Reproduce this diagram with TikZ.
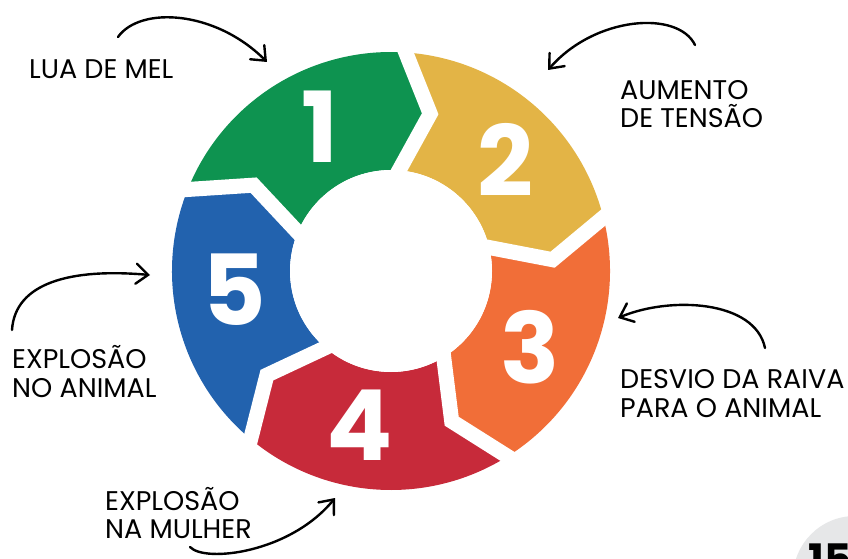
\documentclass[tikz,border=0pt]{standalone}
\usepackage{fontspec}
\setmainfont{Poppins}
\usetikzlibrary{arrows.meta}
\definecolor{cgreen}{HTML}{0E9350}
\definecolor{cyellow}{HTML}{E3B446}
\definecolor{corange}{HTML}{F16E38}
\definecolor{cred}{HTML}{C72A3A}
\definecolor{cblue}{HTML}{2262AE}
\definecolor{cgray}{HTML}{E6E7E8}
\tikzset{
  numtxt/.style={text=white, inner sep=0pt, font=\fontsize{98}{98}\selectfont\bfseries},
  labtxt/.style={text=black, inner sep=0pt, anchor=base west, font=\fontsize{27}{28}\selectfont},
  curvearrow/.style={draw=black, line width=2.4pt, line cap=round, -{Straight Barb[length=12pt,width=20pt,line cap=round]}},
  gapline/.style={draw=white, line width=15pt, line join=miter},
}
\begin{document}
\begin{tikzpicture}[x=1pt,y=1pt]
\useasboundingbox (0,0) rectangle (848,558);
\clip (0,0) rectangle (848,558);
\fill[white] (0,0) rectangle (848,558);
% ring segments
\begin{scope}[shift={(391,287)}]
  \foreach \a/\c in {88/cgreen,16/cyellow,-56/corange,-128/cred,-200/cblue}{
    \pgfmathsetmacro{\s}{\a+72}
    \pgfmathsetmacro{\t}{\a-12}
    \pgfmathsetmacro{\u}{\a+60}
    \fill[\c] (\s:219) arc[start angle=\s, end angle=\a, radius=219pt]
      -- (\t:162) -- (\a:101) arc[start angle=\a, end angle=\s, radius=101pt]
      -- (\u:162) -- cycle;
  }
  \foreach \a in {88,16,-56,-128,-200}{
    \pgfmathsetmacro{\t}{\a-12}
    \draw[gapline] (\a:92) -- (\t:162) -- (\a:235);
  }
  \fill[white] (0,0) circle[radius=101pt];
\end{scope}
% numbers
\node[numtxt] (n1) at (320,431) {1};
\node[numtxt] (n2) at (505,398) {2};
\node[numtxt] (n3) at (530,211) {3};
\node[numtxt] (n4) at (360,133) {4};
\node[numtxt] (n5) at (234,268) {5};
% labels
\node[labtxt] (l1) at (29,479) {LUA DE MEL};
\node[labtxt] (l2a) at (620,458) {AUMENTO};
\node[labtxt] (l2b) at (620,430) {DE TENSÃO};
\node[labtxt] (l3a) at (620,170) {DESVIO DA RAIVA};
\node[labtxt] (l3b) at (620,141) {PARA O ANIMAL};
\node[labtxt] (l4a) at (105,48) {EXPLOSÃO};
\node[labtxt] (l4b) at (105,20) {NA MULHER};
\node[labtxt] (l5a) at (12,190) {EXPLOSÃO};
\node[labtxt] (l5b) at (12,161) {NO ANIMAL};
% arrows
\coordinate (a1s) at (118,521); \coordinate (a1e) at (267,496);
\coordinate (a2s) at (695,513); \coordinate (a2e) at (548,488);
\coordinate (a3s) at (765,210); \coordinate (a3e) at (618,240);
\coordinate (a4s) at (190,11);  \coordinate (a4e) at (335,60);
\coordinate (a5s) at (12,228);  \coordinate (a5e) at (150,283);
\draw[curvearrow] (a1s) .. controls (140,552) and (215,548) .. (a1e);
\draw[curvearrow] (a2s) .. controls (678,548) and (595,542) .. (a2e);
\draw[curvearrow] (a3s) .. controls (755,258) and (670,262) .. (a3e);
\draw[curvearrow] (a4s) .. controls (205,-5) and (290,5) .. (a4e);
\draw[curvearrow] (a5s) .. controls (15,275) and (70,290) .. (a5e);
% corner badge
\fill[cgray] (855,-20) circle[radius=62pt];
\node[inner sep=0pt, anchor=base west, font=\fontsize{42}{42}\selectfont\bfseries] (pg) at (808,-16) {15};
\end{tikzpicture}
\end{document}
